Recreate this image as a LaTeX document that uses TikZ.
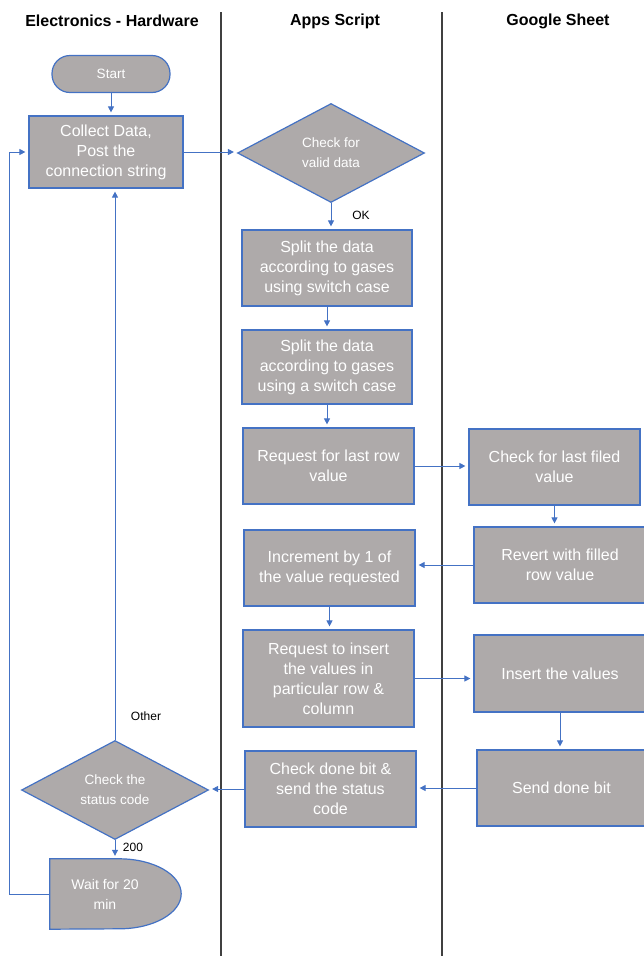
\documentclass[tikz,border=0pt]{standalone}
\usepackage{fontspec}
\setmainfont{Liberation Sans}
\usetikzlibrary{arrows.meta,shapes.geometric,calc}
\definecolor{flowblue}{HTML}{4472C4}
\definecolor{flowgray}{HTML}{AEAAAA}
\definecolor{lanegray}{HTML}{404040}

\begin{document}
\begin{tikzpicture}[x=1pt, y=-1pt,
  proc/.style = {draw=flowblue, fill=flowgray, line width=1.2pt, text=white, align=center, inner sep=0pt, font=\fontsize{16}{20}\selectfont},
  decision/.style = {diamond, draw=flowblue, fill=flowgray, line width=1.2pt, text=white, align=center, inner sep=0pt, minimum width=187pt, minimum height=99pt, font=\fontsize{13.5}{20}\selectfont},
  flow/.style = {flowblue, line width=1pt, shorten >=3pt, -{Triangle[length=6pt,width=6pt]}},
  lane/.style = {lanegray, line width=1.3pt},
  lanetitle/.style = {font=\bfseries\fontsize{16}{20}\selectfont},
  tag/.style = {font=\fontsize{12}{14}\selectfont}]
\useasboundingbox (0,0) rectangle (643,956);
\draw [lane] (221,12) -- (221,956);
\draw [lane] (442,12) -- (442,956);
\node [lanetitle] (hw) at (112,21) {Electronics - Hardware};
\node [lanetitle] (as) at (335,21) {Apps Script};
\node [lanetitle] (gs) at (558,21) {Google Sheet};

\node [proc, rounded corners=18pt, minimum width=118pt, minimum height=37pt, font=\fontsize{13.5}{20}\selectfont] (start) at (111,74) {Start};
\node [proc, minimum width=154pt, minimum height=72pt] (collect) at (106,152) {Collect Data,\\Post the\\connection string};
\node [decision] (valid) at (331,153) {Check for\\valid data};
\node [tag] (ok) at (361,215) {OK};
\node [proc, minimum width=170pt, minimum height=76pt] (split1) at (327,268) {Split the data\\according to gases\\using switch case};
\node [proc, minimum width=170pt, minimum height=74pt] (split2) at (327,367) {Split the data\\according to gases\\using a switch case};
\node [proc, minimum width=171pt, minimum height=76pt] (lastrow) at (328.5,466) {Request for last row\\value};
\node [proc, minimum width=171pt, minimum height=76pt] (lastfiled) at (554.5,467) {Check for last filed\\value};
\node [proc, minimum width=172pt, minimum height=76pt] (revert) at (560,565) {Revert with filled\\row value};
\node [proc, minimum width=171pt, minimum height=76pt] (increment) at (329.5,568) {Increment by 1 of\\the value requested};
\node [proc, minimum width=171pt, minimum height=97pt] (insertreq) at (328.5,678.5) {Request to insert\\the values in\\particular row \&\\column};
\node [proc, minimum width=172pt, minimum height=77pt] (insertval) at (560,673.5) {Insert the values};
\node [proc, minimum width=169pt, minimum height=76pt] (senddone) at (561.5,788) {Send done bit};
\node [proc, minimum width=171pt, minimum height=76pt] (checkdone) at (330.5,789) {Check done bit \&\\send the status\\code};
\node [decision] (status) at (115,790) {Check the\\status code};
\node [tag] (other) at (146,716) {Other};
\node [tag] (twohundred) at (133,847) {200};

\node [minimum width=131pt, minimum height=70pt, inner sep=0pt] (wait) at (115.5,894) {};
\draw [draw=flowblue, fill=flowgray, line width=1.2pt] (wait.north west) -- ($(wait.north east)+(-62,0)$) arc [start angle=90, end angle=-90, x radius=62pt, y radius=35pt] -- (wait.south west) -- cycle;
\node [text=white, align=center, font=\fontsize{14}{20}\selectfont] (waittext) at (105,894) {Wait for 20\\min};

\draw [flow] (start.south) -- (start.south |- collect.north);
\draw [flow] (collect.east) -- (collect.east -| valid.west);
\draw [flow] (valid.south) -- (valid.south |- split1.north);
\draw [flow] (split1) -- (split2);
\draw [flow] (split2) -- (split2 |- lastrow.north);
\draw [flow] (lastrow.east) -- (lastrow.east -| lastfiled.west);
\draw [flow] (lastfiled.south) -- (lastfiled.south |- revert.north);
\draw [flow] (revert.west) -- (revert.west -| increment.east);
\draw [flow] (increment.south) -- (increment.south |- insertreq.north);
\draw [flow] (insertreq.east) -- (insertreq.east -| insertval.west);
\draw [flow] (insertval.south) -- (insertval.south |- senddone.north);
\draw [flow] (senddone.west) -- (senddone.west -| checkdone.east);
\draw [flow] (checkdone.west) -- (checkdone.west -| status.east);
\draw [flow] (status.north) -- (status.north |- collect.south);
\draw [flow] (status.south) -- (status.south |- wait.north);
\draw [flow] (wait.west) -- ++(-40,0) |- (collect.west);
\end{tikzpicture}
\end{document}
